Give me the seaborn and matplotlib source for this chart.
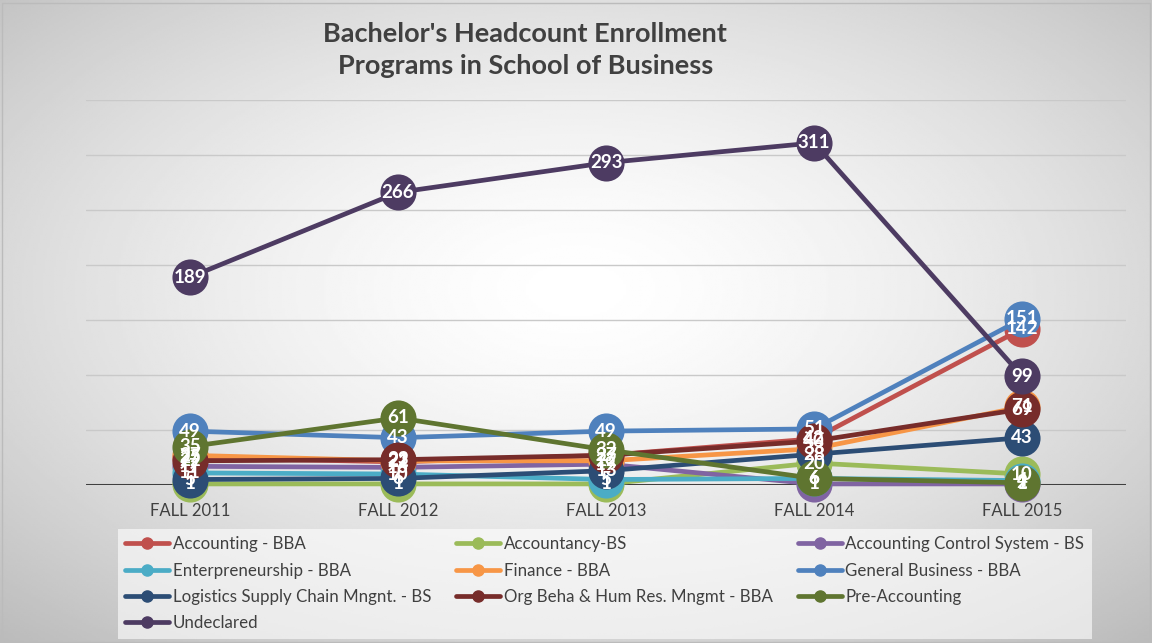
import numpy as np
import pandas as pd
import matplotlib
matplotlib.use("Agg")
import matplotlib.pyplot as plt
import seaborn as sns
from matplotlib.lines import Line2D

# ---- data ----
terms = ["FALL 2011", "FALL 2012", "FALL 2013", "FALL 2014", "FALL 2015"]
programs = ["Accounting - BBA", "Accountancy-BS", "Accounting Control System - BS",
            "Enterpreneurship - BBA", "Finance - BBA", "General Business - BBA",
            "Logistics Supply Chain Mngnt. - BS", "Org Beha & Hum Res. Mngmt - BBA",
            "Pre-Accounting", "Undeclared"]
accounting_bba = [25, 21, 27, 42, 142]
accountancy_bs = [1, 1, 1, 20, 10]
acct_control_bs = [17, 16, 19, 1, 1]
entrepreneurship_bba = [11, 10, 5, 6, 4]
finance_bba = [27, 22, 22, 33, 71]
general_business_bba = [49, 43, 49, 51, 151]
logistics_bs = [5, 6, 13, 28, 43]
org_beha_bba = [22, 23, 27, 40, 69]
pre_accounting = [35, 61, 32, 6, 2]
undeclared = [189, 266, 293, 311, 99]
series = [accounting_bba, accountancy_bs, acct_control_bs, entrepreneurship_bba,
          finance_bba, general_business_bba, logistics_bs, org_beha_bba,
          pre_accounting, undeclared]
colors = ["#C0504D", "#9BBB59", "#8064A2", "#4BACC6", "#F79646", "#4F81BD",
          "#2C4D75", "#772C2A", "#5F7530", "#4D3B62"]

rows = []
for p, vals in zip(programs, series):
    for i, (t, v) in enumerate(zip(terms, vals)):
        rows.append({"Program": p, "Term": t, "x": i, "Count": v})
df = pd.DataFrame(rows)

FONT = ["Lato", "DejaVu Sans"]
sns.set_theme(style="white")
plt.rcParams["font.family"] = FONT

fig = plt.figure(figsize=(11.52, 6.43), dpi=100)

# gradient background
bg = fig.add_axes([0, 0, 1, 1], zorder=-10)
yy, xx = np.mgrid[0:1:300j, 0:1:500j]
r = np.sqrt(((xx - 0.5) / 0.8) ** 2 + ((yy - 0.45) / 0.8) ** 2)
shade = np.clip(1.0 - 0.30 * r ** 1.5, 0, 1)
bg.imshow(shade, cmap="gray", vmin=0, vmax=1, extent=[0, 1, 0, 1], aspect="auto")
bg.set_axis_off()
fig.patches.append(plt.Rectangle((0.002, 0.002), 0.996, 0.994, transform=fig.transFigure,
                                 fill=False, edgecolor="#bbbbbb", lw=1))

ax = fig.add_axes([0.0747, 0.2457, 0.9028, 0.5988])
ax.patch.set_alpha(0)

sns.lineplot(data=df, x="x", y="Count", hue="Program", hue_order=programs,
             palette=colors, marker="o", markersize=26, markeredgewidth=0,
             linewidth=3.4, ax=ax, legend=False, sort=False)

for line in ax.lines:
    line.set_clip_on(False)

for p, vals, c in zip(programs, series, colors):
    for i, v in enumerate(vals):
        ax.text(i, v, str(v), ha="center", va="center", color="white",
                fontsize=13.5, fontweight="bold", zorder=20, clip_on=False,
                family=FONT)

ax.set_xlim(-0.5, 4.5)
ax.set_ylim(0, 350)
ax.set_yticks(np.arange(0, 351, 50))
ax.set_yticklabels([])
ax.tick_params(axis="y", length=0)
ax.grid(axis="y", color="#c9c9c9", lw=1)
ax.set_axisbelow(True)
ax.axhline(0, color="#404040", lw=2.2, zorder=1)
for s in ax.spines.values():
    s.set_visible(False)
ax.set_xticks(range(len(terms)))
ax.set_xticklabels(terms, fontsize=12, color="#404040")
ax.tick_params(axis="x", length=0, pad=13)
ax.set_xlabel("")
ax.set_ylabel("")

fig.text(0.456, 0.922, "Bachelor's Headcount Enrollment\nPrograms in School of Business",
         ha="center", va="center", fontsize=19.5, fontweight="bold", color="#404040",
         linespacing=1.4, family=FONT)

# legend, row-first order as in the reference
handles = [Line2D([], [], color=c, lw=3.4, marker="o", markersize=8) for c in colors]
order = [0, 3, 6, 9, 1, 4, 7, 2, 5, 8]
leg = fig.legend([handles[i] for i in order], [programs[i] for i in order],
                 loc="lower left", bbox_to_anchor=(0.1, 0.003, 0.85, 0.165),
                 mode="expand", ncol=3, frameon=True, fontsize=12.2,
                 handlelength=2.6, handletextpad=0.2, labelspacing=0.6,
                 borderaxespad=0.15, borderpad=0.45, fancybox=False)
leg.get_frame().set_facecolor("white")
leg.get_frame().set_alpha(0.6)
leg.get_frame().set_edgecolor("none")
for t in leg.get_texts():
    t.set_color("#404040")

fig.savefig("out.png", dpi=100)
